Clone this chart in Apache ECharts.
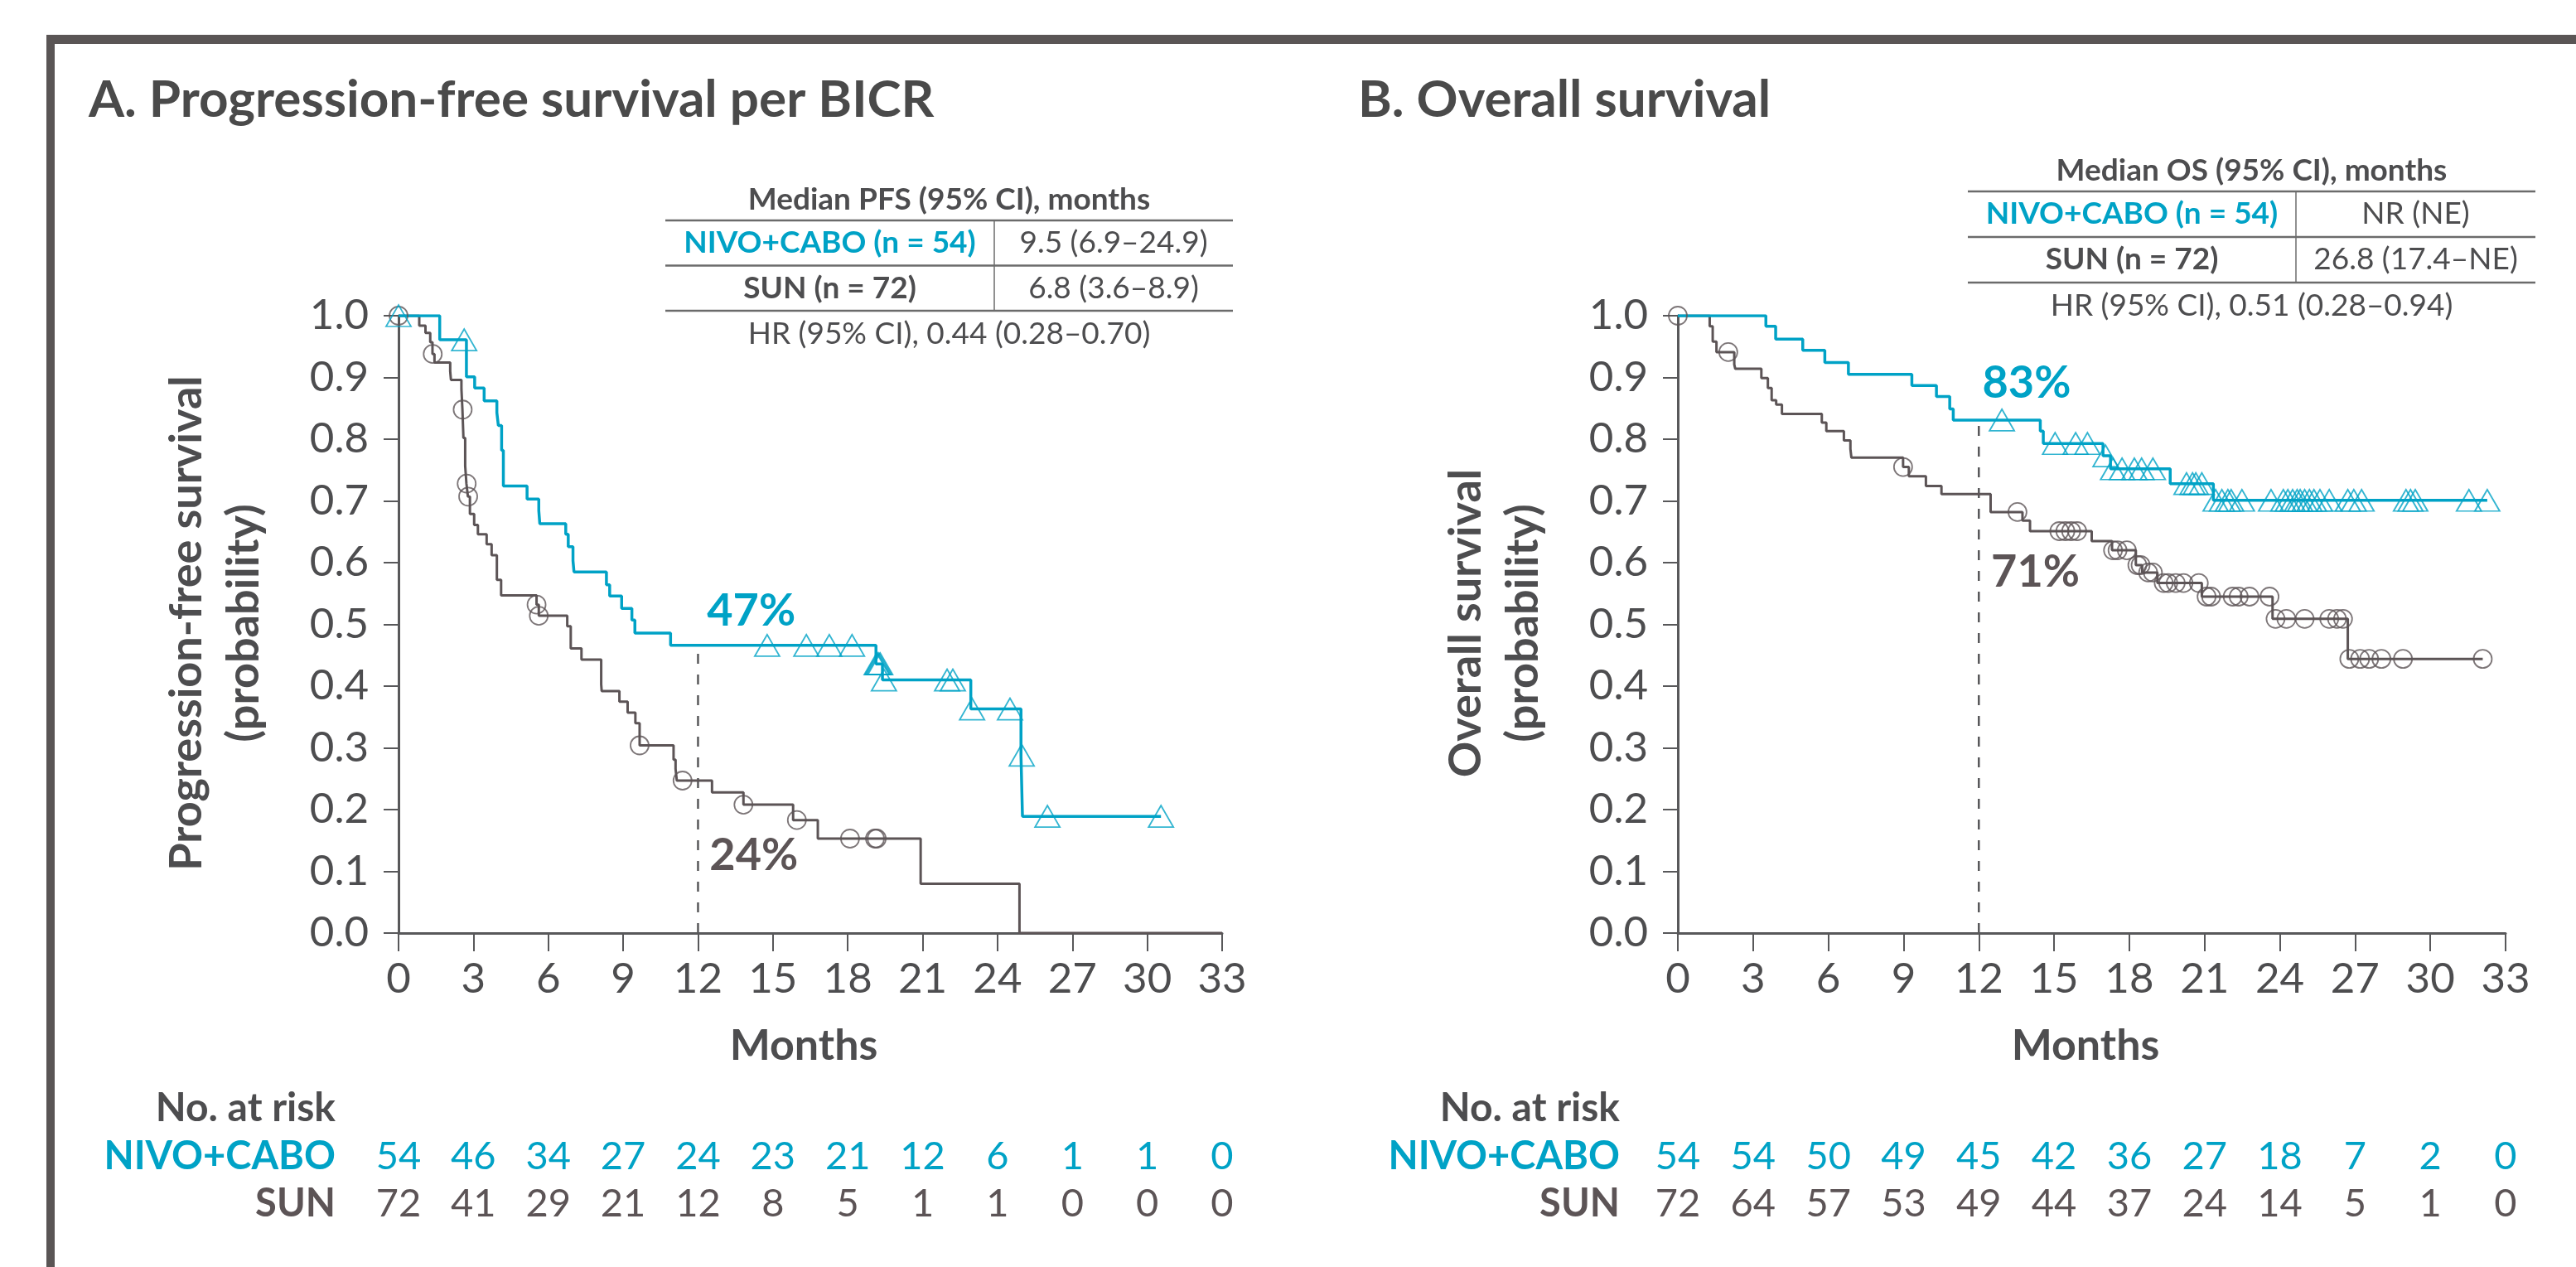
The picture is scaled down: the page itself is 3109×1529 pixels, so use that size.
<!DOCTYPE html>
<html><head><meta charset="utf-8">
<script src="https://cdn.jsdelivr.net/npm/echarts@6/dist/echarts.min.js"></script>
<style>html,body{margin:0;padding:0;background:#fff}#c{width:3109px;height:1529px}</style>
</head><body><div id="c"></div>
<script>
// ---------------- DATA ----------------
const riskMonths = [0, 3, 6, 9, 12, 15, 18, 21, 24, 27, 30, 33];
const pfsNivoRisk = [54, 46, 34, 27, 24, 23, 21, 12, 6, 1, 1, 0];
const pfsSunRisk  = [72, 41, 29, 21, 12, 8, 5, 1, 1, 0, 0, 0];
const osNivoRisk  = [54, 54, 50, 49, 45, 42, 36, 27, 18, 7, 2, 0];
const osSunRisk   = [72, 64, 57, 53, 49, 44, 37, 24, 14, 5, 1, 0];

// PFS, NIVO+CABO
const pfsNivoTimes = [0, 1.65, 2.72, 3.05, 3.43, 3.94, 4.0, 4.13, 4.2, 5.15, 5.62, 5.66, 6.7, 6.8, 6.99, 7.03, 8.33, 8.46, 8.94, 9.35, 9.47, 10.9, 19.13, 19.39, 22.93, 24.94, 25.0];
const pfsNivoSurv  = [1, 0.961, 0.901, 0.883, 0.862, 0.843, 0.822, 0.782, 0.724, 0.703, 0.684, 0.663, 0.646, 0.626, 0.603, 0.585, 0.564, 0.546, 0.526, 0.507, 0.486, 0.466, 0.436, 0.41, 0.363, 0.288, 0.189];
const pfsNivoLast = 30.55;
const pfsNivoCensored = [0, 2.63, 14.77, 16.34, 17.26, 18.17, 19.16, 19.2, 19.25, 19.3, 19.45, 21.98, 22.21, 22.98, 24.5, 24.97, 26.0, 30.55];

// PFS, SUN
const pfsSunTimes = [0, 0.83, 1.08, 1.27, 1.36, 1.44, 2.07, 2.1, 2.52, 2.56, 2.6, 2.67, 2.72, 2.78, 2.86, 3.03, 3.18, 3.53, 3.73, 3.94, 4.11, 5.53, 5.62, 6.76, 6.9, 7.33, 8.12, 8.14, 8.85, 9.18, 9.49, 9.66, 11.02, 11.1, 11.15, 12.56, 13.82, 15.81, 16.8, 20.92, 24.88];
const pfsSunSurv  = [1, 0.984, 0.972, 0.957, 0.938, 0.924, 0.91, 0.896, 0.881, 0.848, 0.802, 0.757, 0.728, 0.707, 0.679, 0.661, 0.646, 0.63, 0.612, 0.572, 0.547, 0.532, 0.514, 0.497, 0.461, 0.443, 0.403, 0.392, 0.375, 0.357, 0.34, 0.304, 0.281, 0.266, 0.247, 0.228, 0.208, 0.183, 0.153, 0.08, 0];
const pfsSunLast = 33;
const pfsSunCensored = [0, 1.37, 2.57, 2.73, 2.79, 5.53, 5.62, 9.66, 11.38, 13.82, 15.96, 18.09, 19.09, 19.16];

// OS, NIVO+CABO
const osNivoTimes = [0, 3.51, 3.9, 4.98, 5.86, 6.8, 9.33, 10.31, 10.84, 10.98, 14.45, 14.57, 16.95, 17.25, 19.63, 21.35];
const osNivoSurv  = [1, 0.983, 0.962, 0.944, 0.924, 0.905, 0.887, 0.869, 0.849, 0.831, 0.813, 0.793, 0.773, 0.752, 0.728, 0.701];
const osNivoLast = 32.27;
const osNivoCensored = [12.92, 15.04, 15.86, 16.33, 17.05, 17.35, 17.71, 18.2, 18.49, 18.94, 20.28, 20.52, 20.65, 20.89, 21.44, 21.69, 21.93, 22.06, 22.49, 23.65, 24.14, 24.32, 24.51, 24.69, 24.81, 24.99, 25.18, 25.36, 25.6, 25.97, 26.71, 26.95, 27.26, 29.03, 29.21, 29.4, 31.54, 32.27];

// OS, SUN
const osSunTimes = [0, 1.27, 1.39, 1.54, 2.25, 2.29, 3.33, 3.59, 3.74, 3.92, 4.15, 5.74, 5.92, 6.62, 6.88, 6.92, 8.98, 9.21, 9.89, 10.51, 12.47, 13.74, 14.04, 16.5, 17.31, 18.26, 18.51, 19.12, 20.89, 23.71, 26.71];
const osSunSurv  = [1, 0.983, 0.958, 0.941, 0.921, 0.914, 0.899, 0.883, 0.863, 0.856, 0.841, 0.827, 0.813, 0.798, 0.784, 0.77, 0.755, 0.74, 0.724, 0.711, 0.682, 0.668, 0.651, 0.635, 0.62, 0.596, 0.584, 0.567, 0.545, 0.509, 0.444];
const osSunLast = 32.09;
const osSunCensored = [0, 2.01, 8.98, 13.54, 15.21, 15.45, 15.68, 15.92, 17.35, 17.53, 17.9, 18.32, 18.45, 18.75, 18.94, 19.37, 19.55, 19.85, 20.16, 20.77, 21.08, 21.26, 22.12, 22.36, 22.79, 23.59, 23.83, 24.26, 24.99, 25.97, 26.28, 26.52, 26.77, 27.2, 27.56, 28.05, 28.91, 32.09];

const landmarkMonth = 12;
const pfsLandmarkLabels = ['47%', '24%'];
const osLandmarkLabels = ['83%', '71%'];

const pfsTableRows = [['NIVO+CABO (n = 54)', '9.5 (6.9–24.9)'], ['SUN (n = 72)', '6.8 (3.6–8.9)']];
const osTableRows  = [['NIVO+CABO (n = 54)', 'NR (NE)'], ['SUN (n = 72)', '26.8 (17.4–NE)']];
const pfsHR = 'HR (95% CI), 0.44 (0.28–0.70)';
const osHR  = 'HR (95% CI), 0.51 (0.28–0.94)';

// ---------------- STYLE ----------------
const TEAL = '#00a2c6', SUNC = '#5c5456', AXIS = '#58585a', TXT = '#4d4d4f', FRAME = '#5a5555';
const FONT = 'Lato';

function survAt(times, surv, t) {
  let v = surv[0];
  for (let i = 0; i < times.length; i++) if (times[i] <= t + 1e-9) v = surv[i];
  return v;
}
function kmData(times, surv, last) {
  const d = times.map((t, i) => [t, surv[i]]);
  d.push([last, surv[surv.length - 1]]);
  return d;
}
function cens(times, surv, c) { return c.map(t => [t, survAt(times, surv, t)]); }

const chart = echarts.init(document.getElementById('c'), null, {renderer: 'canvas', width: 3109, height: 1529});

function xAx(gi) {
  return {type: 'value', gridIndex: gi, min: 0, max: 33, interval: 3,
    axisLine: {show: true, onZero: false, lineStyle: {color: AXIS, width: 3}},
    axisTick: {show: true, length: 22, lineStyle: {color: AXIS, width: 2}},
    splitLine: {show: false},
    axisLabel: {fontSize: 51, fontFamily: FONT, color: TXT, margin: 30}};
}
function yAx(gi) {
  return {type: 'value', gridIndex: gi, min: 0, max: 1, interval: 0.1,
    axisLine: {show: true, onZero: false, lineStyle: {color: AXIS, width: 3}},
    axisTick: {show: true, length: 18, lineStyle: {color: AXIS, width: 2}},
    splitLine: {show: false},
    axisLabel: {fontSize: 51, fontFamily: FONT, color: TXT, margin: 36, formatter: v => v.toFixed(1)}};
}
function lineS(gi, data, color, w, z) {
  return {type: 'line', xAxisIndex: gi, yAxisIndex: gi, data, step: 'end', symbol: 'none', silent: true,
    lineStyle: {color, width: w}, z};
}
function dashS(gi, top) {
  return {type: 'line', xAxisIndex: gi, yAxisIndex: gi, data: [[landmarkMonth, 0], [landmarkMonth, top]],
    symbol: 'none', silent: true, lineStyle: {color: AXIS, width: 2.5, type: [12, 13]}, z: 1};
}
function scatS(gi, data, sym, size, color, bw) {
  return {type: 'scatter', xAxisIndex: gi, yAxisIndex: gi, data, symbol: sym, symbolSize: size, silent: true,
    itemStyle: {color: 'rgba(255,255,255,0)', borderColor: color, borderWidth: bw}, z: 5};
}

const pfsTeal12 = survAt(pfsNivoTimes, pfsNivoSurv, landmarkMonth);
const osTeal12 = survAt(osNivoTimes, osNivoSurv, landmarkMonth);

chart.setOption({
  animation: false,
  backgroundColor: '#ffffff',
  grid: [{left: 481, top: 381, width: 994, height: 745}, {left: 2025, top: 381, width: 999, height: 745}],
  xAxis: [xAx(0), xAx(1)],
  yAxis: [yAx(0), yAx(1)],
  series: [
    dashS(0, pfsTeal12),
    lineS(0, kmData(pfsSunTimes, pfsSunSurv, pfsSunLast), SUNC, 3, 2),
    lineS(0, kmData(pfsNivoTimes, pfsNivoSurv, pfsNivoLast), TEAL, 3.5, 3),
    scatS(0, cens(pfsSunTimes, pfsSunSurv, pfsSunCensored), 'circle', 22, SUNC, 1.8),
    scatS(0, cens(pfsNivoTimes, pfsNivoSurv, pfsNivoCensored), 'triangle', [30, 26], TEAL, 1.8),
    dashS(1, osTeal12),
    lineS(1, kmData(osSunTimes, osSunSurv, osSunLast), SUNC, 3, 2),
    lineS(1, kmData(osNivoTimes, osNivoSurv, osNivoLast), TEAL, 3.5, 3),
    scatS(1, cens(osSunTimes, osSunSurv, osSunCensored), 'circle', 22, SUNC, 1.8),
    scatS(1, cens(osNivoTimes, osNivoSurv, osNivoCensored), 'triangle', [30, 26], TEAL, 1.8)
  ]
});

// ---------------- GRAPHICS ----------------
function txt(x, y, text, size, weight, color, align, rot) {
  const el = {type: 'text', x, y, silent: true, z: 10,
    style: {text, x: 0, y: 0, fontSize: size, fontFamily: FONT, fontWeight: weight, fill: color,
      align: align || 'center', verticalAlign: 'middle', textAlign: align || 'center', textVerticalAlign: 'middle'}};
  if (rot) el.rotation = rot;
  return el;
}
function hline(x1, x2, y, w, c) {
  return {type: 'line', silent: true, shape: {x1, y1: y, x2, y2: y}, style: {stroke: c || '#6b6b6b', lineWidth: w}};
}
function vline(x, y1, y2, w, c) {
  return {type: 'line', silent: true, shape: {x1: x, y1, x2: x, y2}, style: {stroke: c || '#6b6b6b', lineWidth: w}};
}
const px = (gi, t, v) => chart.convertToPixel({gridIndex: gi}, [t, v]);

const g = [];
// frame
g.push({type: 'rect', silent: true, shape: {x: 56, y: 42, width: 3109 - 56, height: 11}, style: {fill: FRAME}});
g.push({type: 'rect', silent: true, shape: {x: 56, y: 42, width: 10, height: 1529 - 42}, style: {fill: FRAME}});
// panel titles
g.push(txt(107, 121, 'A. Progression-free survival per BICR', 62, 'bold', '#4a4a4a', 'left'));
g.push(txt(1639, 121, 'B. Overall survival', 62, 'bold', '#4a4a4a', 'left'));

// tables
function table(x1, x2, xd, yHead, yTop, rowH, head, rows, hr) {
  const cx = (x1 + x2) / 2, c1 = (x1 + xd) / 2, c2 = (xd + x2) / 2;
  g.push(txt(cx, yHead, head, 37, 'bold', TXT));
  g.push(hline(x1, x2, yTop, 2.5));
  g.push(hline(x1, x2, yTop + rowH, 2.5));
  g.push(hline(x1, x2, yTop + 2 * rowH, 2.5));
  g.push(vline(xd, yTop, yTop + 2 * rowH, 1.5));
  rows.forEach((r, i) => {
    const y = yTop + rowH * (i + 0.5);
    g.push(txt(c1, y, r[0], 37, 'bold', i === 0 ? TEAL : TXT));
    g.push(txt(c2, y, r[1], 37, 'normal', TXT));
  });
  g.push(txt(cx, yTop + 2 * rowH + 28, hr, 37, 'normal', TXT));
}
table(803, 1488, 1200, 241, 266, 54.5, 'Median PFS (95% CI), months', pfsTableRows, pfsHR);
table(2375, 3060, 2771, 206, 231, 55, 'Median OS (95% CI), months', osTableRows, osHR);

// y axis titles
g.push(txt(226, 752, 'Progression-free survival', 54, 'bold', TXT, 'center', Math.PI / 2));
g.push(txt(295, 752, '(probability)', 54, 'bold', TXT, 'center', Math.PI / 2));
g.push(txt(1770, 752, 'Overall survival', 54, 'bold', TXT, 'center', Math.PI / 2));
g.push(txt(1839, 752, '(probability)', 54, 'bold', TXT, 'center', Math.PI / 2));

// x axis titles
g.push(txt(970, 1262, 'Months', 52, 'bold', TXT));
g.push(txt(2517, 1262, 'Months', 52, 'bold', TXT));

// landmark labels
function land(gi, t, v, text, color) {
  const p = px(gi, t, v);
  g.push(txt(p[0], p[1], text, 54, 'bold', color, 'left'));
}
land(0, 12.36, 0.521, pfsLandmarkLabels[0], TEAL);
land(0, 12.46, 0.125, pfsLandmarkLabels[1], SUNC);
land(1, 12.14, 0.89, osLandmarkLabels[0], TEAL);
land(1, 12.49, 0.584, osLandmarkLabels[1], SUNC);

// number at risk
function risk(gi, labelRight, nivo, sun) {
  g.push(txt(labelRight, 1338, 'No. at risk', 48, 'bold', TXT, 'right'));
  g.push(txt(labelRight, 1396, 'NIVO+CABO', 47, 'bold', TEAL, 'right'));
  g.push(txt(labelRight, 1453, 'SUN', 47, 'bold', SUNC, 'right'));
  riskMonths.forEach((m, i) => {
    const x = px(gi, m, 0)[0];
    g.push(txt(x, 1396, String(nivo[i]), 47, 'normal', TEAL));
    g.push(txt(x, 1453, String(sun[i]), 47, 'normal', SUNC));
  });
}
risk(0, 405, pfsNivoRisk, pfsSunRisk);
risk(1, 1955, osNivoRisk, osSunRisk);

chart.setOption({graphic: {elements: g}});
</script>
</body></html>
